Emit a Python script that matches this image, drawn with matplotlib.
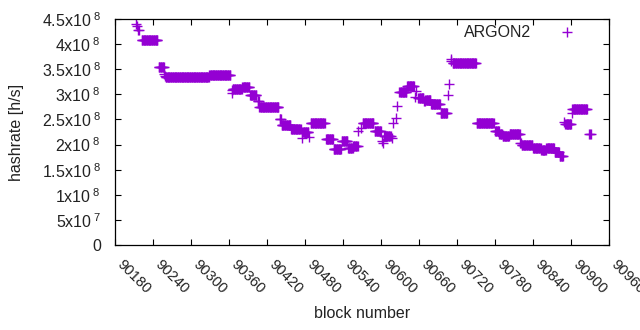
import numpy as np
import matplotlib
matplotlib.use('Agg')
import matplotlib.pyplot as plt
from matplotlib.transforms import ScaledTranslation

# runs of blocks with the same hashrate (units of 1e8 h/s)
seg_start = [90213, 90214, 90217, 90222, 90249, 90258, 90259, 90260, 90329, 90364,
             90365, 90366, 90381, 90393, 90405, 90408, 90440, 90443, 90458, 90475,
             90476, 90486, 90489, 90513, 90525, 90538, 90548, 90556, 90564, 90569,
             90571, 90590, 90601, 90603, 90605, 90617, 90619, 90623, 90626, 90629,
             90641, 90653, 90655, 90659, 90668, 90670, 90679, 90694, 90706, 90707,
             90710, 90711, 90713, 90751, 90780, 90787, 90792, 90803, 90820, 90822,
             90829, 90840, 90853, 90861, 90874, 90882, 90889, 90891, 90901, 90902,
             90929]
seg_end = [90213, 90214, 90218, 90247, 90257, 90258, 90259, 90328, 90362, 90364,
           90365, 90380, 90392, 90403, 90407, 90438, 90442, 90457, 90473, 90475,
           90485, 90486, 90511, 90524, 90537, 90547, 90555, 90563, 90564, 90569,
           90588, 90600, 90601, 90603, 90615, 90617, 90619, 90623, 90626, 90640,
           90652, 90653, 90655, 90667, 90669, 90678, 90693, 90704, 90706, 90707,
           90710, 90711, 90750, 90778, 90786, 90791, 90802, 90819, 90821, 90828,
           90839, 90852, 90860, 90873, 90881, 90887, 90889, 90900, 90901, 90925,
           90931]
seg_val = [4.41, 4.37, 4.28, 4.09, 3.55, 3.41, 3.36, 3.35, 3.39, 3.08,
           3.03, 3.11, 3.15, 2.98, 2.86, 2.75, 2.51, 2.39, 2.31, 2.13,
           2.25, 2.15, 2.43, 2.11, 1.91, 2.07, 1.94, 1.98, 2.27, 2.33,
           2.43, 2.27, 2.07, 2.03, 2.18, 2.14, 2.43, 2.53, 2.77, 3.05,
           3.16, 2.94, 3.06, 2.92, 2.87, 2.88, 2.81, 2.63, 2.99, 3.21,
           3.70, 3.67, 3.63, 2.43, 2.26, 2.22, 2.18, 2.22, 2.03, 1.99,
           1.99, 1.93, 1.90, 1.93, 1.85, 1.77, 2.45, 2.40, 2.62, 2.70,
           2.21]

x_ticks = list(range(90180, 90961, 60))
y_ticks = [0, 0.5e8, 1e8, 1.5e8, 2e8, 2.5e8, 3e8, 3.5e8, 4e8, 4.5e8]
y_labels = ['0', r'5x10$^{\ 7}$', r'1x10$^{\ 8}$', r'1.5x10$^{\ 8}$', r'2x10$^{\ 8}$',
            r'2.5x10$^{\ 8}$', r'3x10$^{\ 8}$', r'3.5x10$^{\ 8}$', r'4x10$^{\ 8}$',
            r'4.5x10$^{\ 8}$']

blocks = np.concatenate([np.arange(s, e + 1) for s, e in zip(seg_start, seg_end)])
rates = np.concatenate([np.full(e - s + 1, v * 1e8) for s, e, v in zip(seg_start, seg_end, seg_val)])

plt.rcParams['font.family'] = ['Liberation Sans', 'DejaVu Sans']
plt.rcParams['mathtext.fontset'] = 'custom'
plt.rcParams['mathtext.rm'] = 'Liberation Sans'
plt.rcParams['mathtext.it'] = 'Liberation Sans:italic'
plt.rcParams['font.size'] = 11.5

fig = plt.figure(figsize=(6.4, 3.3), dpi=100)
ax = fig.add_axes([115 / 640, 1 - 245 / 330, 494 / 640, 226 / 330])

ax.plot(blocks, rates, linestyle='none', marker='+', markersize=6.5,
        markeredgewidth=1.0, color='#9400d3', label='ARGON2')

ax.set_xlim(90180, 90960)
ax.set_ylim(0, 4.5e8)
ax.set_xticks(x_ticks)
ax.set_xticklabels([str(t) for t in x_ticks], rotation=-45, ha='left', va='top',
                   rotation_mode='anchor', fontsize=10.6)
ax.set_yticks(y_ticks)
ax.set_yticklabels(y_labels)
ax.tick_params(direction='in', length=4, width=0.8, top=True, right=True,
               colors='black', labelcolor='#222222')
ax.tick_params(axis='x', pad=6)
ax.tick_params(axis='y', pad=10)
for sp in ax.spines.values():
    sp.set_linewidth(0.9)

# nudge the rotated tick labels like gnuplot does
shift = ScaledTranslation(9 / 100, -3.5 / 100, fig.dpi_scale_trans)
for lbl in ax.get_xticklabels():
    lbl.set_transform(lbl.get_transform() + shift)

ax.set_xlabel('block number', color='#222222', labelpad=7)
ax.set_ylabel('hashrate [h/s]', color='#222222', labelpad=13)

ax.legend(loc='upper right', bbox_to_anchor=(0.969, 1.0), markerfirst=False,
          frameon=False, handlelength=2.5, handletextpad=1.0, borderaxespad=0.0,
          labelcolor='#222222')

fig.savefig('out.png', dpi=100)
